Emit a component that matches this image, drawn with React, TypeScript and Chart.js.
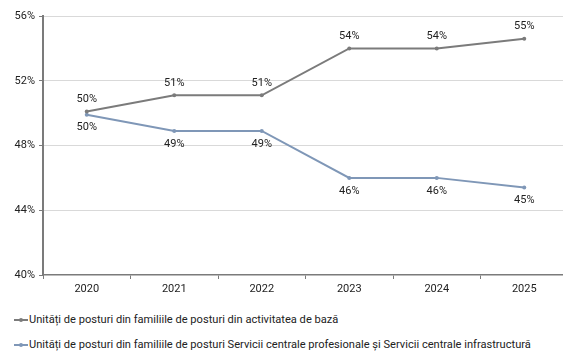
import React, { useEffect, useRef } from "react";
import { Chart, registerables } from "chart.js";

Chart.register(...registerables);

const categories = ["2020", "2021", "2022", "2023", "2024", "2025"];
const seriesCore = [50.1, 51.1, 51.1, 54.0, 54.0, 54.6];
const seriesCentral = [49.9, 48.9, 48.9, 46.0, 46.0, 45.4];
const labelsCore = ["50%", "51%", "51%", "54%", "54%", "55%"];
const labelsCentral = ["50%", "49%", "49%", "46%", "46%", "45%"];
const seriesNames = [
  "Unități de posturi din familiile de posturi din activitatea de bază",
  "Unități de posturi din familiile de posturi Servicii centrale profesionale și Servicii centrale infrastructură",
];
const yTicks = [40, 44, 48, 52, 56];

const GRAY = "#7b7b7b";
const BLUE = "#7f97b7";
const FONT = "Roboto, 'Noto Sans', sans-serif";

const labelPlugin = {
  id: "pointLabels",
  afterDatasetsDraw(chart: any) {
    const ctx = chart.ctx;
    ctx.save();
    ctx.font = `11px ${FONT}`;
    ctx.fillStyle = "#222";
    ctx.textAlign = "center";
    ctx.textBaseline = "middle";
    const sets = [labelsCore, labelsCentral];
    chart.data.datasets.forEach((ds: any, di: number) => {
      const meta = chart.getDatasetMeta(di);
      meta.data.forEach((pt: any, i: number) => {
        const dy = di === 0 ? -12 : 13;
        ctx.fillText(sets[di][i], pt.x, pt.y + dy);
      });
    });
    ctx.restore();
  },
};

function LegendItem({ color, text, top }: { color: string; text: string; top: number }) {
  return (
    <div
      style={{
        position: "absolute",
        left: 14,
        top,
        display: "flex",
        alignItems: "center",
        fontFamily: FONT,
        fontSize: 11.1,
        color: "#222",
        whiteSpace: "nowrap",
        lineHeight: "14px",
      }}
    >
      <span style={{ position: "relative", width: 14, height: 14, display: "inline-block", marginRight: 1 }}>
        <span style={{ position: "absolute", left: 0, top: 6, width: 14, height: 2, background: color }} />
        <span style={{ position: "absolute", left: 5, top: 5, width: 4, height: 4, borderRadius: 2, background: color }} />
      </span>
      <span>{text}</span>
    </div>
  );
}

export default function App() {
  const ref = useRef<HTMLCanvasElement>(null);
  useEffect(() => {
    if (!ref.current) return;
    const chart = new Chart(ref.current, {
      type: "line",
      data: {
        labels: categories,
        datasets: [
          {
            label: seriesNames[0],
            data: seriesCore,
            borderColor: GRAY,
            backgroundColor: GRAY,
            borderWidth: 2,
            pointRadius: 2,
            pointBorderWidth: 0,
            tension: 0,
          },
          {
            label: seriesNames[1],
            data: seriesCentral,
            borderColor: BLUE,
            backgroundColor: BLUE,
            borderWidth: 2,
            pointRadius: 2,
            pointBorderWidth: 0,
            tension: 0,
          },
        ],
      },
      options: {
        animation: false,
        responsive: false,
        layout: { padding: { top: 16, left: 0, right: 0, bottom: 0 } },
        plugins: { legend: { display: false }, tooltip: { enabled: false } },
        scales: {
          x: {
            offset: true,
            grid: {
              offset: true,
              drawOnChartArea: false,
              drawTicks: true,
              tickLength: 4,
              color: GRAY,
            },
            border: { display: true, color: GRAY, width: 1.5 },
            ticks: { font: { family: FONT, size: 11 }, color: "#222", padding: 4 },
            afterFit(scale: any) {
              scale.height = 25;
            },
          },
          y: {
            min: 40,
            max: 56,
            afterBuildTicks(scale: any) {
              scale.ticks = yTicks.map((v) => ({ value: v }));
            },
            grid: {
              color: (c: any) => (c.tick && c.tick.value === 40 ? "rgba(0,0,0,0)" : "#d9d9d9"),
              tickColor: GRAY,
              tickLength: 4,
              lineWidth: 1,
            },
            border: { display: true, color: GRAY, width: 2 },
            ticks: {
              font: { family: FONT, size: 11 },
              color: "#222",
              padding: 4,
              callback: (v: any) => `${v}%`,
            },
            afterFit(scale: any) {
              scale.width = 43;
            },
          },
        },
      },
      plugins: [labelPlugin],
    });
    return () => chart.destroy();
  }, []);

  return (
    <div style={{ position: "absolute", left: 0, top: 0, width: 563, height: 356, overflow: "hidden" }}>
      <canvas ref={ref} width={572} height={300} style={{ display: "block" }} />
      <LegendItem color={GRAY} text={seriesNames[0]} top={313} />
      <LegendItem color={BLUE} text={seriesNames[1]} top={338} />
    </div>
  );
}
